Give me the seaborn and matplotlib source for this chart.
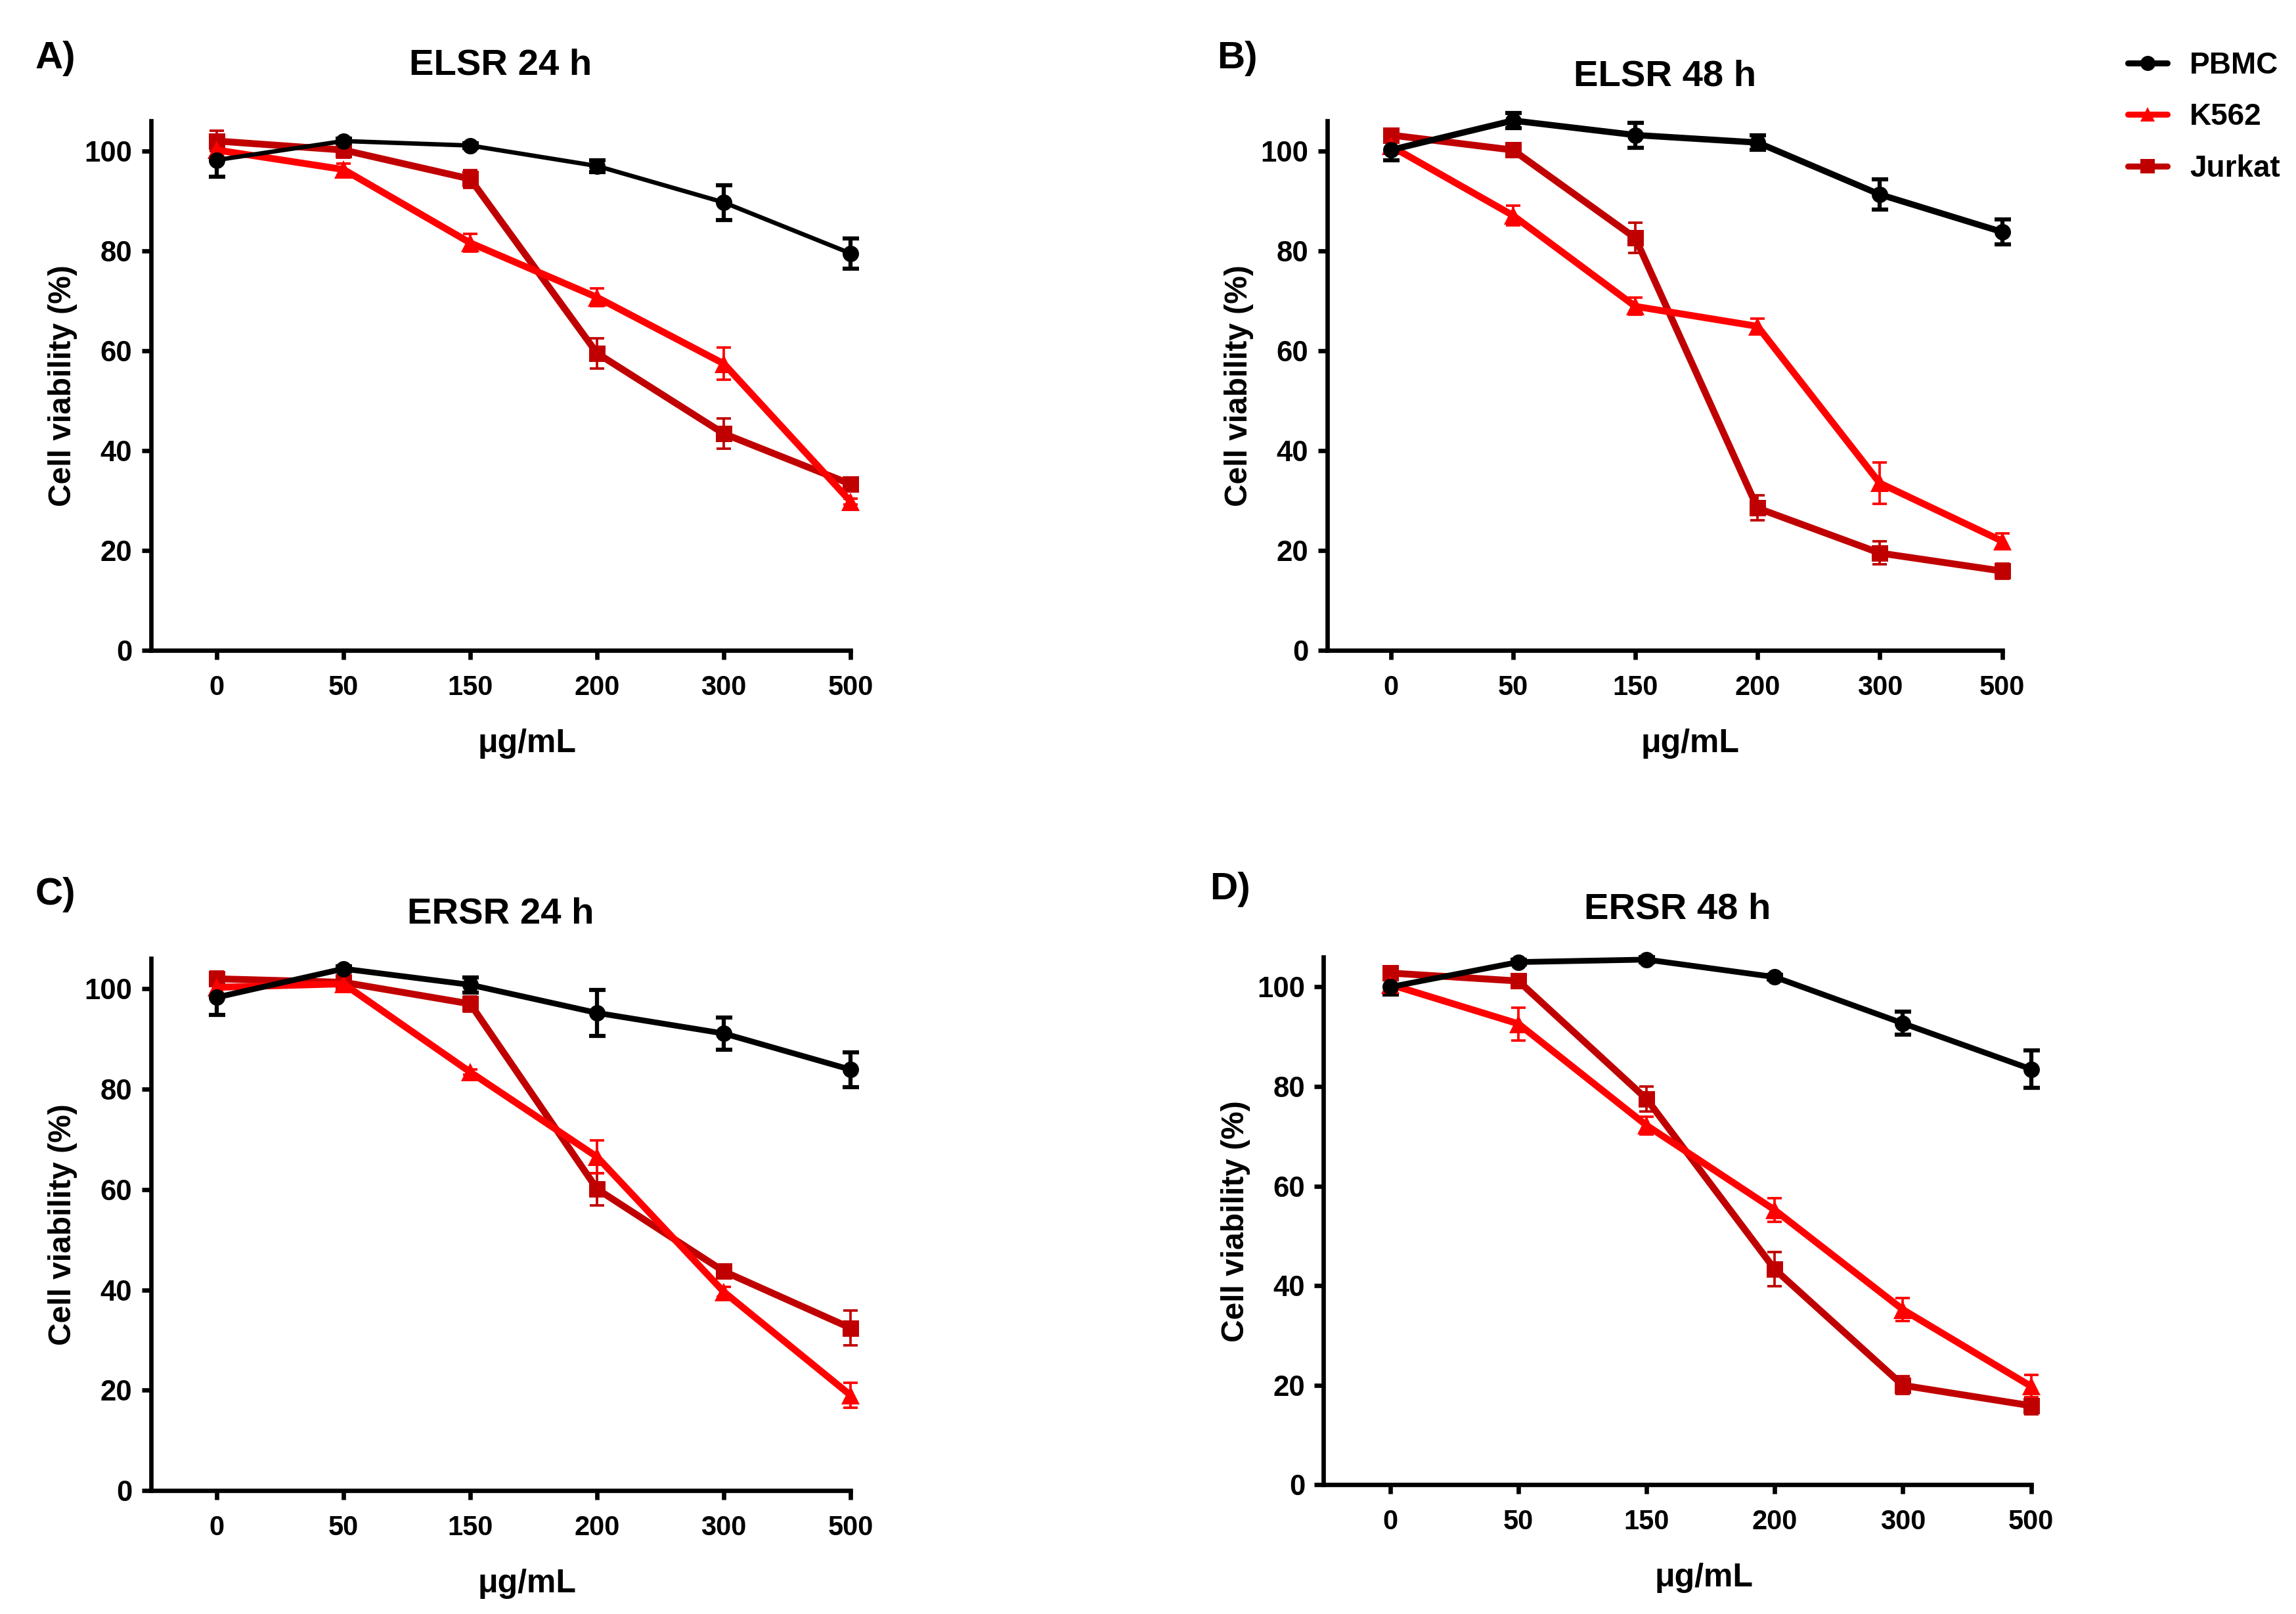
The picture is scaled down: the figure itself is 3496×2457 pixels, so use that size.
"""
Cell viability curves (PBMC / K562 / Jurkat) for ELSR and ERSR extracts,
24 h and 48 h, laid out as a 2x2 panel figure.
"""
import numpy as np
import pandas as pd
import matplotlib.pyplot as plt
import seaborn as sns

# ---------------------------------------------------------------------------
doses = ["0", "50", "150", "200", "300", "500"]
cell_lines = ["PBMC", "K562", "Jurkat"]

# A) ELSR 24 h  (mean, SEM)
elsr24_pbmc = [98.2, 102.0, 101.1, 97.0, 89.7, 79.5]
elsr24_pbmc_err = [3.4, 0.5, 0.5, 1.2, 3.5, 3.0]
elsr24_k562 = [100.2, 96.3, 81.6, 70.7, 57.4, 29.8]
elsr24_k562_err = [2.0, 1.2, 1.8, 1.8, 3.2, 0.6]
elsr24_jurkat = [102.0, 100.2, 94.4, 59.5, 43.4, 33.3]
elsr24_jurkat_err = [2.0, 1.5, 1.8, 3.0, 3.0, 1.0]

# B) ELSR 48 h
elsr48_pbmc = [100.2, 106.1, 103.2, 101.7, 91.3, 83.8]
elsr48_pbmc_err = [2.0, 1.5, 2.5, 1.5, 3.0, 2.5]
elsr48_k562 = [101.0, 87.1, 68.9, 64.9, 33.5, 21.9]
elsr48_k562_err = [1.5, 2.0, 1.7, 1.5, 4.2, 1.5]
elsr48_jurkat = [103.2, 100.2, 82.6, 28.5, 19.5, 15.9]
elsr48_jurkat_err = [1.0, 0.8, 3.0, 2.5, 2.3, 1.5]

# C) ERSR 24 h
ersr24_pbmc = [98.3, 104.0, 100.8, 95.2, 91.1, 83.9]
ersr24_pbmc_err = [3.5, 0.5, 1.5, 4.6, 3.2, 3.5]
ersr24_k562 = [100.3, 101.0, 83.4, 66.5, 39.6, 19.0]
ersr24_k562_err = [2.0, 0.5, 0.5, 3.3, 1.0, 2.5]
ersr24_jurkat = [102.0, 101.3, 97.0, 60.1, 43.7, 32.4]
ersr24_jurkat_err = [1.5, 0.8, 1.5, 3.2, 0.8, 3.5]

# D) ERSR 48 h
ersr48_pbmc = [100.0, 105.0, 105.5, 102.0, 92.7, 83.5]
ersr48_pbmc_err = [1.5, 0.5, 0.5, 0.5, 2.3, 3.7]
ersr48_k562 = [100.5, 92.6, 72.2, 55.2, 35.2, 19.8]
ersr48_k562_err = [1.5, 3.3, 1.8, 2.4, 2.3, 2.3]
ersr48_jurkat = [102.8, 101.2, 77.5, 43.3, 20.0, 15.9]
ersr48_jurkat_err = [1.0, 1.0, 2.5, 3.4, 1.8, 1.7]

panels = [
    ("A)", "ELSR 24 h", [elsr24_pbmc, elsr24_k562, elsr24_jurkat],
     [elsr24_pbmc_err, elsr24_k562_err, elsr24_jurkat_err]),
    ("B)", "ELSR 48 h", [elsr48_pbmc, elsr48_k562, elsr48_jurkat],
     [elsr48_pbmc_err, elsr48_k562_err, elsr48_jurkat_err]),
    ("C)", "ERSR 24 h", [ersr24_pbmc, ersr24_k562, ersr24_jurkat],
     [ersr24_pbmc_err, ersr24_k562_err, ersr24_jurkat_err]),
    ("D)", "ERSR 48 h", [ersr48_pbmc, ersr48_k562, ersr48_jurkat],
     [ersr48_pbmc_err, ersr48_k562_err, ersr48_jurkat_err]),
]

colors = {"PBMC": "#000000", "K562": "#FF0000", "Jurkat": "#C00000"}
markers = {"PBMC": "o", "K562": "^", "Jurkat": "s"}

# ---------------------------------------------------------------------------
sns.set_style("ticks")
plt.rcParams['font.family'] = ['Liberation Sans', 'DejaVu Sans']
plt.rcParams['font.weight'] = 'bold'
plt.rcParams['axes.labelweight'] = 'bold'
plt.rcParams['axes.titleweight'] = 'bold'
for key in ['text.color', 'axes.labelcolor', 'xtick.color', 'ytick.color', 'axes.edgecolor']:
    plt.rcParams[key] = 'black'

fig = plt.figure(figsize=(3496 / 300, 2457 / 300), dpi=300)

# axes boxes [left, bottom, width, height] in figure fractions
boxes = [
    [0.0657, 0.597, 0.3048, 0.328],
    [0.578, 0.597, 0.294, 0.328],
    [0.0657, 0.0764, 0.3048, 0.3296],
    [0.5765, 0.080, 0.3081, 0.327],
]
title_pads = [17, 13, 13, 14]
letter_pos = [(0.0242, 0.9636), (0.539, 0.9636), (0.0242, 0.4455), (0.5357, 0.449)]
black_lw = [1.6, 2.3, 2.1, 2.1]

handles = {}
for i, (letter, title, means, errs) in enumerate(panels):
    ax = fig.add_axes(boxes[i])
    x = np.arange(len(doses))

    # draw Jurkat first, PBMC on top
    for j in [2, 1, 0]:
        name = cell_lines[j]
        df = pd.DataFrame({"dose": doses, "viability": means[j]})
        lw = black_lw[i] if name == "PBMC" else 2.5
        sns.lineplot(data=df, x="dose", y="viability", ax=ax, color=colors[name],
                     marker=markers[name], markersize=6 if name != "K562" else 6.5,
                     markeredgewidth=0, linewidth=lw, sort=False, zorder=6 - j,
                     clip_on=False)
        ax.errorbar(x, means[j], yerr=errs[j], fmt='none', ecolor=colors[name],
                    elinewidth=1.5 if name == "PBMC" else 0.9,
                    capsize=3.0 if name == "PBMC" else 2.6,
                    capthick=1.5 if name == "PBMC" else 0.9, zorder=2, clip_on=False)
        if name not in handles:
            handles[name] = plt.Line2D([], [], color=colors[name], marker=markers[name],
                                       markersize=5.5, linewidth=2.2, markeredgewidth=0)

    ax.set_xlim(-0.52, 5.0)
    ax.set_ylim(0, 106)
    ax.set_yticks([0, 20, 40, 60, 80, 100])
    ax.set_xticks(x)
    ax.set_xticklabels(doses)
    for s in ["top", "right"]:
        ax.spines[s].set_visible(False)
    for s in ["left", "bottom"]:
        ax.spines[s].set_linewidth(1.6)
    ax.tick_params(axis='both', width=1.6, length=3.3, labelsize=10.5, direction='out')
    ax.tick_params(axis='x', pad=5.5, labelsize=10)
    ax.set_title(title, fontsize=13.5, pad=title_pads[i])
    ax.set_xlabel("μg/mL", fontsize=12, labelpad=10)
    ax.xaxis.label.set_x(0.538)
    ax.set_ylabel("Cell viability (%)", fontsize=11.5, labelpad=2.5)
    ax.grid(False)

    fig.text(letter_pos[i][0], letter_pos[i][1], letter, fontsize=14,
             fontweight='bold', ha='center', va='center')

fig.legend([handles[n] for n in cell_lines], cell_lines, loc='upper left',
           bbox_to_anchor=(0.915, 0.985), frameon=False, fontsize=11,
           handlelength=1.3, labelspacing=0.75, handletextpad=0.75)

plt.savefig("out.png", dpi=300)
